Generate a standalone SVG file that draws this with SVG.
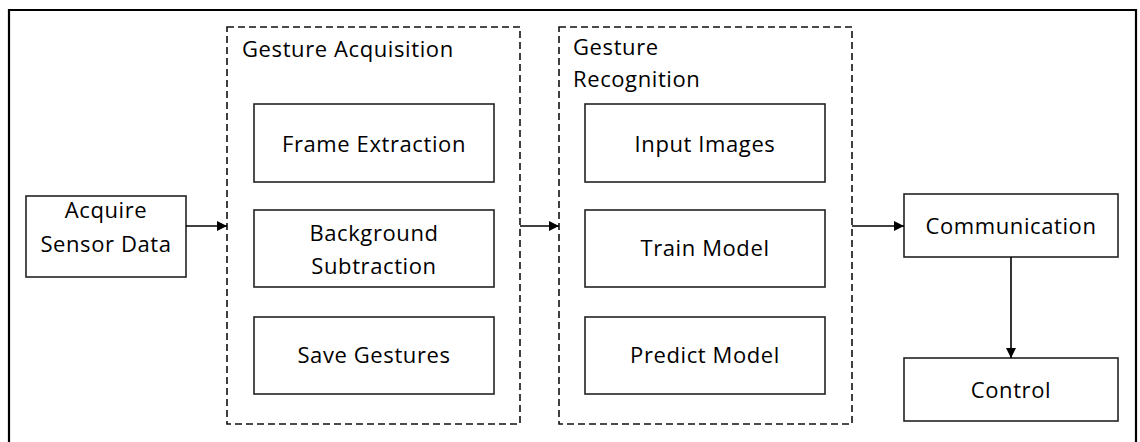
<svg xmlns="http://www.w3.org/2000/svg" width="1140" height="442" viewBox="0 0 1140 442">
<style>
  .box { fill: #fff; stroke: #222; stroke-width: 1.6; }
  .group { fill: none; stroke: #111; stroke-width: 1.6; stroke-dasharray: 7 4; }
  .lbl { font-family: "Open Sans", "Noto Sans", sans-serif; font-size: 22px; letter-spacing: 0.6px; fill: #000; text-anchor: middle; }
  .glbl { font-family: "Open Sans", "Noto Sans", sans-serif; font-size: 22px; letter-spacing: 0.6px; fill: #000; }
  .conn { stroke: #000; stroke-width: 1.6; fill: none; }
</style>
<defs>
  <marker id="arr" viewBox="0 0 10 10" refX="10" refY="5" markerWidth="10" markerHeight="10" markerUnits="userSpaceOnUse" orient="auto">
    <path d="M0,0 L10,5 L0,10 z" fill="#000"/>
  </marker>
</defs>
<rect width="1140" height="442" fill="#fff"/>
<path d="M9,443 L9,10 L1136,10 L1136,443" fill="none" stroke="#000" stroke-width="2.2"/>

<g id="acquisition-group">
  <rect class="group" x="227" y="27" width="293" height="397"/>
  <text class="glbl" x="242" y="57">Gesture Acquisition</text>
</g>
<g id="recognition-group">
  <rect class="group" x="559" y="27" width="293" height="397"/>
  <text class="glbl" x="573" y="55">Gesture</text>
  <text class="glbl" x="573" y="87">Recognition</text>
</g>

<g id="acquire">
  <rect class="box" x="26" y="196" width="160" height="81"/>
  <text class="lbl" x="106" y="218">Acquire</text>
  <text class="lbl" x="106" y="252">Sensor Data</text>
</g>
<g id="frame-extraction">
  <rect class="box" x="254" y="104" width="240" height="78"/>
  <text class="lbl" x="374" y="152">Frame Extraction</text>
</g>
<g id="background-subtraction">
  <rect class="box" x="254" y="210" width="240" height="77"/>
  <text class="lbl" x="374" y="241">Background</text>
  <text class="lbl" x="374" y="274">Subtraction</text>
</g>
<g id="save-gestures">
  <rect class="box" x="254" y="317" width="240" height="77"/>
  <text class="lbl" x="374" y="363">Save Gestures</text>
</g>
<g id="input-images">
  <rect class="box" x="585" y="104" width="240" height="78"/>
  <text class="lbl" x="705" y="152">Input Images</text>
</g>
<g id="train-model">
  <rect class="box" x="585" y="210" width="240" height="77"/>
  <text class="lbl" x="705" y="256">Train Model</text>
</g>
<g id="predict-model">
  <rect class="box" x="585" y="317" width="240" height="77"/>
  <text class="lbl" x="705" y="363">Predict Model</text>
</g>
<g id="communication">
  <rect class="box" x="904" y="194" width="214" height="63"/>
  <text class="lbl" x="1011" y="234">Communication</text>
</g>
<g id="control">
  <rect class="box" x="904" y="358" width="214" height="63"/>
  <text class="lbl" x="1011" y="398">Control</text>
</g>

<g id="connectors">
  <line class="conn" x1="186" y1="226" x2="227" y2="226" marker-end="url(#arr)"/>
  <line class="conn" x1="520" y1="226" x2="559" y2="226" marker-end="url(#arr)"/>
  <line class="conn" x1="852" y1="226" x2="904" y2="226" marker-end="url(#arr)"/>
  <line class="conn" x1="1011" y1="257" x2="1011" y2="358" marker-end="url(#arr)"/>
</g>
</svg>
